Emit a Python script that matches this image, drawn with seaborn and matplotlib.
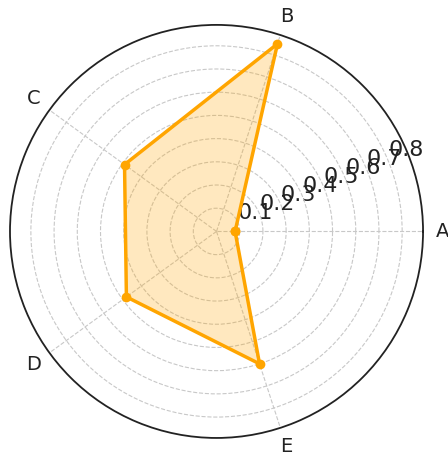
import numpy as np
import pandas as pd
import matplotlib
matplotlib.use("Agg")
import matplotlib.pyplot as plt
import seaborn as sns

# Data
categories = ["A", "B", "C", "D", "E"]
values = [0.08, 0.85, 0.49, 0.48, 0.60]
rticks = [0.1, 0.2, 0.3, 0.4, 0.5, 0.6, 0.7, 0.8]

sns.set_style("white")
plt.rcParams['font.family'] = ['DejaVu Sans']

angles = np.linspace(0, 2 * np.pi, len(categories), endpoint=False)
# close the polygon
df = pd.DataFrame({
    "theta": np.append(angles, angles[0]),
    "r": values + values[:1],
})

fig = plt.figure(figsize=(4.48, 4.57), dpi=100)
ax = fig.add_axes([0.0223, 0.0416, 0.922, 0.904], projection="polar")

ax.fill(df["theta"], df["r"], color="orange", alpha=0.25, zorder=2)
sns.lineplot(data=df, x="theta", y="r", sort=False, estimator=None,
             color="orange", linewidth=2.5, marker="o", markersize=7,
             markeredgewidth=0, ax=ax, zorder=3)

ax.set_ylim(0, 0.89)
ax.set_xticks(angles)
ax.set_xticklabels(categories, fontsize=14, color="#222222")
ax.set_yticks(rticks)
ax.set_yticklabels([f"{t:.1f}" for t in rticks], fontsize=16, color="#222222")
ax.set_xlabel("")
ax.set_ylabel("")
ax.grid(True, linestyle="--", color="#c8c8c8", linewidth=0.8)
ax.spines["polar"].set_color("#222222")
ax.spines["polar"].set_linewidth(1.3)

fig.savefig("out.png", dpi=100)
